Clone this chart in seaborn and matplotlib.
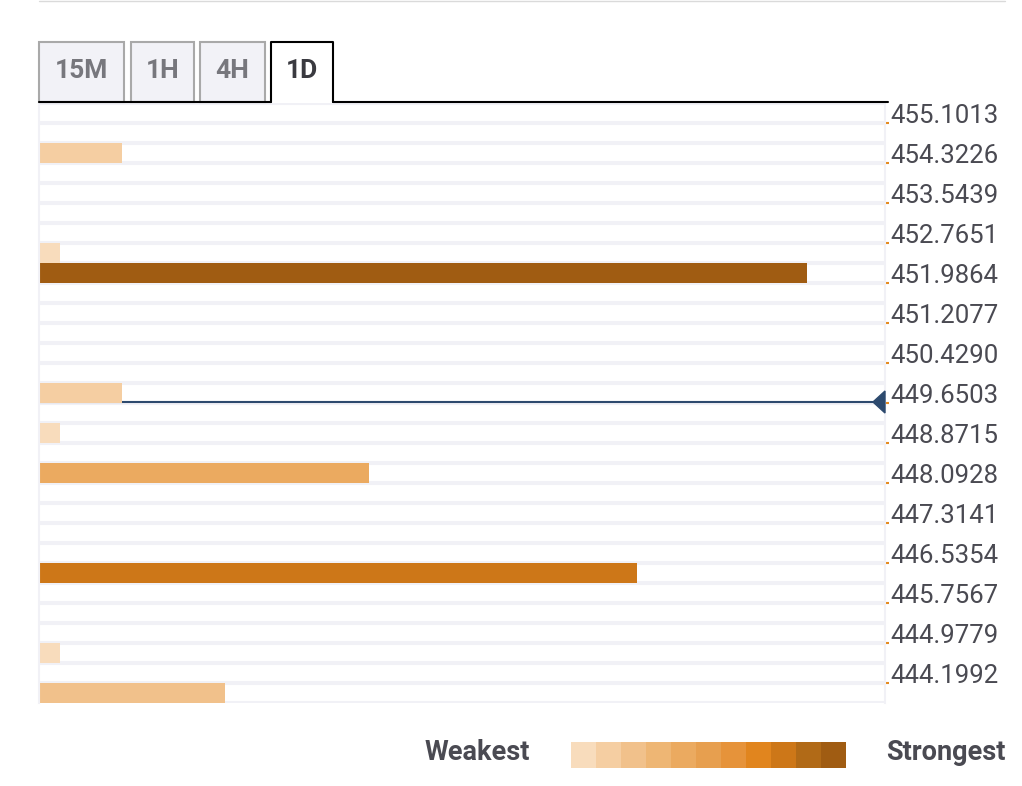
import numpy as np
import pandas as pd
import seaborn as sns
import matplotlib.pyplot as plt
from matplotlib.colors import ListedColormap
from matplotlib.patches import Rectangle, Polygon
from matplotlib.lines import Line2D
from matplotlib.transforms import blended_transform_factory

# Data
price_labels = ['455.1013', '454.3226', '453.5439', '452.7651', '451.9864',
                '451.2077', '450.4290', '449.6503', '448.8715', '448.0928',
                '447.3141', '446.5354', '445.7567', '444.9779', '444.1992']
# one entry per row (30 rows, top to bottom), confluence strength
strength = [0, 0, 4, 0, 0, 0, 0, 1, 37.2, 0,
            0, 0, 0, 0, 4, 0, 1, 0, 16, 0,
            0, 0, 0, 29, 0, 0, 0, 1, 0, 9]
# colour level 0 (weakest) .. 10 (strongest) for each row
level = [0, 0, 1, 0, 0, 0, 0, 0, 10, 0,
         0, 0, 0, 0, 1, 0, 0, 0, 4, 0,
         0, 0, 0, 8, 0, 0, 0, 0, 0, 2]
legend_colors = ['#f8dcbc', '#f5cea2', '#f1c18b', '#eeb674', '#ebaa60', '#e79f4f',
                 '#e6933a', '#e1851e', '#cd7718', '#b16a17', '#a05c12']
current_price_row = 14.45
tabs = ['15M', '1H', '4H', '1D']

W, H = 1022, 786
def fx(px):
    return px / W
def fy(py):
    return 1 - py / H

sns.set_style('white')
plt.rcParams['font.family'] = ['Roboto', 'DejaVu Sans']

fig = plt.figure(figsize=(W / 100, H / 100), dpi=100)
ax = fig.add_axes([fx(39), fy(703), fx(885) - fx(39), fy(103) - fy(703)])

rows = ['r%02d' % i for i in range(len(strength))]
df = pd.DataFrame({'row': rows, 'strength': strength, 'level': level})
palette = {r: legend_colors[l] for r, l in zip(rows, level)}

# row separators
for i in range(len(rows) + 1):
    ax.axhline(i - 0.5, color='#f1f1f6', lw=2.9, zorder=0.5)

sns.barplot(data=df, x='strength', y='row', hue='row', palette=palette,
            width=1.0, orient='h', legend=False, saturation=1,
            linewidth=0, zorder=2, ax=ax)

ax.set_xlim(0, 41)
ax.set_ylim(len(rows) - 0.5, -0.5)
ax.set_xlabel('')
ax.set_ylabel('')
ax.set_xticks([])

for s in ['top', 'bottom']:
    ax.spines[s].set_visible(False)
for s in ['left', 'right']:
    ax.spines[s].set_color('#f1f1f6')
    ax.spines[s].set_linewidth(1.5)

ax.yaxis.tick_right()
ax.set_yticks([0.5 + 2 * k for k in range(len(price_labels))])
ax.set_yticklabels(price_labels)
ax.tick_params(axis='y', right=True, left=False, length=3, width=1.5,
               color='#e58a1f', pad=1, labelsize=18.5, labelcolor='#4a4a52')
for lab in ax.get_yticklabels():
    lab.set_verticalalignment('baseline')

# current price line and marker
ax.axhline(current_price_row, color='#2d4a6e', lw=1.5, zorder=1.5)
tr = blended_transform_factory(ax.transAxes, ax.transData)
ax.add_patch(Polygon([[1 - 12 / 846, current_price_row],
                      [1, current_price_row - 0.55],
                      [1, current_price_row + 0.55]],
                     closed=True, transform=tr, color='#2d4a6e',
                     clip_on=False, zorder=3))

# legend strip
cax = fig.add_axes([fx(571), fy(768), fx(846) - fx(571), fy(742) - fy(768)])
sns.heatmap(np.arange(len(legend_colors))[None, :], cmap=ListedColormap(legend_colors),
            cbar=False, xticklabels=False, yticklabels=False, ax=cax)
fig.text(fx(530), fy(752), 'Weakest', ha='right', va='center',
         fontsize=19.5, fontweight='bold', color='#4a4a52')
fig.text(fx(886), fy(752), 'Strongest', ha='left', va='center',
         fontsize=19.5, fontweight='bold', color='#4a4a52')

# timeframe tabs
tab_x = [(39, 124), (131, 194), (200, 265), (271, 333)]
for name, (x0, x1) in zip(tabs, tab_x):
    active = name == '1D'
    if active:
        fig.patches.append(Rectangle((fx(x0), fy(102)), fx(x1) - fx(x0), fy(42) - fy(102),
                                     transform=fig.transFigure, facecolor='white',
                                     edgecolor='none'))
        fig.lines.append(Line2D([fx(x0), fx(x0), fx(x1), fx(x1)],
                                [fy(102), fy(42), fy(42), fy(102)],
                                transform=fig.transFigure, color='black', lw=1.5))
    else:
        fig.patches.append(Rectangle((fx(x0), fy(102)), fx(x1) - fx(x0), fy(42) - fy(102),
                                     transform=fig.transFigure, facecolor='#f2f2f7',
                                     edgecolor='#a9a9a9', lw=1.5))
    fig.text(fx((x0 + x1) / 2), fy(71), name, ha='center', va='center',
             fontsize=19, fontweight='bold', color='#3a3a40' if active else '#77777d')

fig.lines.append(Line2D([fx(39), fx(271)], [fy(102), fy(102)],
                        transform=fig.transFigure, color='black', lw=1.5))
fig.lines.append(Line2D([fx(333), fx(888)], [fy(102), fy(102)],
                        transform=fig.transFigure, color='black', lw=1.5))
fig.lines.append(Line2D([fx(39), fx(1005)], [fy(0.5), fy(0.5)],
                        transform=fig.transFigure, color='#dadada', lw=1))

fig.savefig('out.png', dpi=100)
